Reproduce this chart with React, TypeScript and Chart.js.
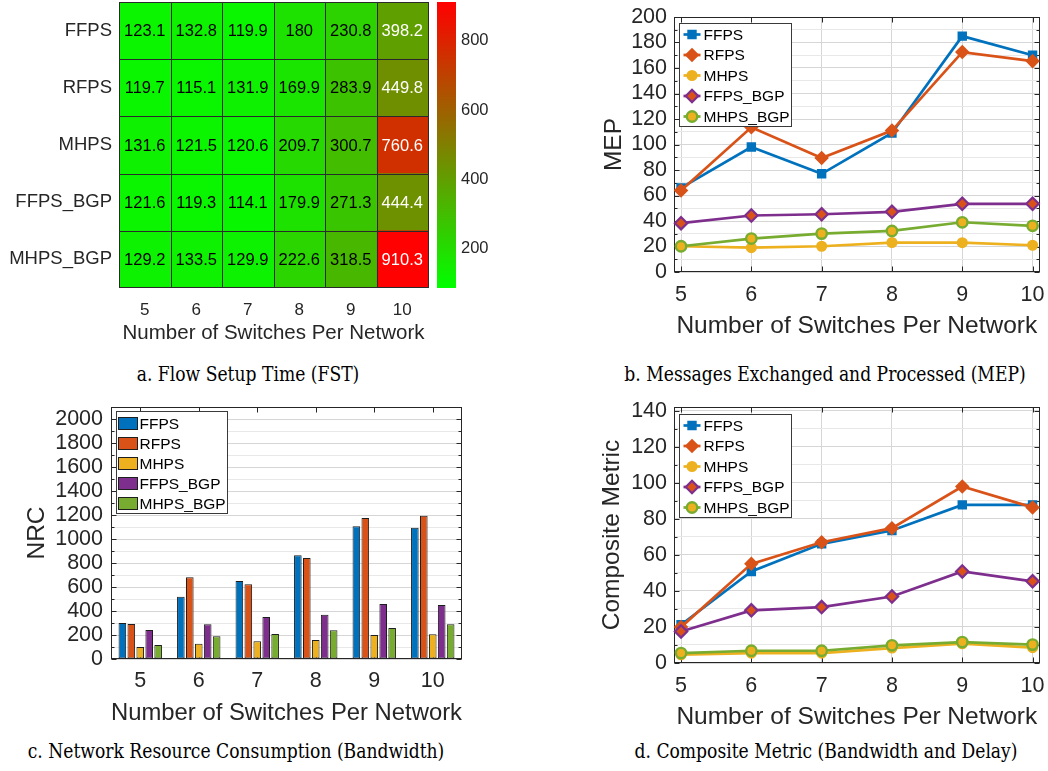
import React, { useEffect, useRef } from 'react';
import { Chart, registerables } from 'chart.js';

Chart.register(...registerables);
Chart.defaults.font.family = '"Liberation Sans", Arial, Helvetica, sans-serif';
Chart.defaults.color = '#262626';

// ---------------- data ----------------
const SWITCH_LABELS = ['5', '6', '7', '8', '9', '10'];
const SWITCH_COUNTS = [5, 6, 7, 8, 9, 10];
const SCHEMES = ['FFPS', 'RFPS', 'MHPS', 'FFPS_BGP', 'MHPS_BGP'];

// a. Flow Setup Time (FST) heatmap, one row per scheme
const FST_FFPS = [123.1, 132.8, 119.9, 180, 230.8, 398.2];
const FST_RFPS = [119.7, 115.1, 131.9, 169.9, 283.9, 449.8];
const FST_MHPS = [131.6, 121.5, 120.6, 209.7, 300.7, 760.6];
const FST_FFPS_BGP = [121.6, 119.3, 114.1, 179.9, 271.3, 444.4];
const FST_MHPS_BGP = [129.2, 133.5, 129.9, 222.6, 318.5, 910.3];
const FST_ROWS = [FST_FFPS, FST_RFPS, FST_MHPS, FST_FFPS_BGP, FST_MHPS_BGP];
const FST_COLOR_LIMITS = [87, 912];
const FST_COLORBAR_TICKS = [200, 400, 600, 800];

// b. Messages Exchanged and Processed (MEP)
const MEP_FFPS = [66, 98, 77, 109, 185, 170];
const MEP_RFPS = [64, 113.5, 89.4, 110.9, 172.5, 165.4];
const MEP_MHPS = [20.2, 19.1, 20.2, 23.1, 23, 21];
const MEP_FFPS_BGP = [38.3, 44.3, 45.3, 47.2, 53.5, 53.5];
const MEP_MHPS_BGP = [20.2, 26.2, 30.1, 32.2, 39, 36.2];
const MEP_SERIES = [MEP_FFPS, MEP_RFPS, MEP_MHPS, MEP_FFPS_BGP, MEP_MHPS_BGP];
const MEP_Y_MAX = 200;
const MEP_Y_STEP = 10;
const MEP_Y_LABEL_STEP = 20;

// c. Network Resource Consumption (NRC)
const NRC_FFPS = [300, 519, 650, 864, 1106, 1094];
const NRC_RFPS = [292, 681, 622, 842, 1175, 1194];
const NRC_MHPS = [100, 128, 147, 158, 200, 206];
const NRC_FFPS_BGP = [242, 289, 350, 369, 458, 450];
const NRC_MHPS_BGP = [117, 189, 208, 239, 258, 289];
const NRC_SERIES = [NRC_FFPS, NRC_RFPS, NRC_MHPS, NRC_FFPS_BGP, NRC_MHPS_BGP];
const NRC_Y_MAX = 2100;
const NRC_Y_STEP = 100;
const NRC_Y_LABEL_STEP = 200;

// d. Composite Metric
const CM_FFPS = [21.2, 50.8, 66.1, 73.5, 87.7, 87.7];
const CM_RFPS = [19.9, 55, 67, 74.8, 97.9, 86.3];
const CM_MHPS = [4.6, 5.5, 5.5, 8.3, 10.7, 8.5];
const CM_FFPS_BGP = [17.5, 29.2, 31, 36.9, 50.8, 45.3];
const CM_MHPS_BGP = [5.5, 6.8, 6.8, 9.8, 11.6, 10.2];
const CM_SERIES = [CM_FFPS, CM_RFPS, CM_MHPS, CM_FFPS_BGP, CM_MHPS_BGP];
const CM_Y_MAX = 142;
const CM_Y_STEP = 10;
const CM_Y_LABEL_STEP = 20;

const X_TITLE = 'Number of Switches Per Network';

// ---------------- styles ----------------
const AXIS = '#262626';
const GRID_MAJOR = '#d6d6d6';
const GRID_MINOR = '#e8e8e8';
const LINE_COLORS = ['#0072BD', '#D95319', '#EDB120', '#7E2F8E', '#77AC30'];
const MARKER_FILLS = ['#0072BD', '#D95319', '#EDB120', '#D95319', '#EDB120'];
const MARKER_STYLES = ['rect', 'rectRot', 'circle', 'rectRot', 'circle'];
const MARKER_RADII = [5.6, 6.2, 4.8, 6.2, 5.2];
const MARKER_BORDERS = [1.5, 1.5, 1.5, 2.2, 2.4];

function steps(max: number, step: number): number[] {
  const out: number[] = [];
  for (let v = 0; v <= max + 1e-9; v += step) out.push(Math.round(v * 1000) / 1000);
  return out;
}

function colormap(v: number): [number, number, number] {
  const [lo, hi] = FST_COLOR_LIMITS;
  let t = (v - lo) / (hi - lo);
  t = Math.max(0, Math.min(1, t));
  return [Math.round(255 * t), Math.round(255 * (1 - t)), 0];
}
const rgb = (c: [number, number, number]) => `rgb(${c[0]},${c[1]},${c[2]})`;

const fixWidth = (w: number) => (s: any) => {
  s.width = w;
  s.paddingTop = 0; s.paddingBottom = 0; s.paddingLeft = 0; s.paddingRight = 0;
};
const fixHeight = (h: number) => (s: any) => {
  s.height = h;
  s.paddingTop = 0; s.paddingBottom = 0; s.paddingLeft = 0; s.paddingRight = 0;
};

function drawMarker(ctx: CanvasRenderingContext2D, style: string, x: number, y: number, r: number, fill: string, stroke: string, bw: number) {
  ctx.beginPath();
  if (style === 'rect') {
    const s = r * Math.SQRT1_2;
    ctx.rect(x - s, y - s, 2 * s, 2 * s);
  } else if (style === 'rectRot') {
    ctx.moveTo(x, y - r); ctx.lineTo(x + r, y); ctx.lineTo(x, y + r); ctx.lineTo(x - r, y); ctx.closePath();
  } else {
    ctx.arc(x, y, r, 0, Math.PI * 2);
  }
  ctx.fillStyle = fill; ctx.fill();
  ctx.lineWidth = bw; ctx.strokeStyle = stroke; ctx.stroke();
}

// ---------------- plugins ----------------
const boxPlugin = {
  id: 'mbox',
  beforeDatasetsDraw(chart: any, _a: any, o: any) {
    if (!o || !o.display) return;
    const { ctx, chartArea: a, scales } = chart;
    const L = Math.round(a.left) + 0.5, R = Math.round(a.right) - 0.5;
    const T = Math.round(a.top) + 0.5, B = Math.round(a.bottom) - 0.5;
    ctx.save();
    ctx.strokeStyle = AXIS; ctx.lineWidth = 1;
    ctx.strokeRect(L, T, R - L, B - T);
    ctx.beginPath();
    const ys = scales.y;
    if (o.yTicks !== 'none') {
      ys.ticks.forEach((t: any, i: number) => {
        const p = Math.round(ys.getPixelForTick(i)) + 0.5;
        const len = t.label !== '' ? 5 : 3;
        if (o.yTicks !== 'right') { ctx.moveTo(L, p); ctx.lineTo(L + len, p); }
        ctx.moveTo(R, p); ctx.lineTo(R - len, p);
      });
    }
    if (o.xTicks) {
      const xs = scales.x;
      xs.ticks.forEach((_t: any, i: number) => {
        const p = Math.round(xs.getPixelForTick(i)) + 0.5;
        ctx.moveTo(p, B); ctx.lineTo(p, B - 5);
        ctx.moveTo(p, T); ctx.lineTo(p, T + 5);
      });
    }
    ctx.stroke();
    ctx.restore();
  },
};

const legendPlugin = {
  id: 'mlegend',
  afterDatasetsDraw(chart: any, _a: any, o: any) {
    if (!o || !o.display) return;
    const { ctx, chartArea: a } = chart;
    const x0 = Math.round(a.left + o.dx) + 0.5, y0 = Math.round(a.top + o.dy) + 0.5;
    ctx.save();
    ctx.fillStyle = '#ffffff'; ctx.fillRect(x0, y0, o.w, o.h);
    ctx.strokeStyle = '#3a3a3a'; ctx.lineWidth = 1; ctx.strokeRect(x0, y0, o.w, o.h);
    ctx.font = `${o.fontSize}px "Liberation Sans", Arial, sans-serif`;
    ctx.textBaseline = 'middle'; ctx.textAlign = 'left';
    chart.data.datasets.forEach((ds: any, i: number) => {
      const cy = y0 + o.first + i * o.step;
      if (o.kind === 'bar') {
        ctx.fillStyle = ds.backgroundColor;
        ctx.fillRect(x0 + 2, cy - 6, 19, 12);
        ctx.strokeStyle = '#1e1e1e'; ctx.lineWidth = 1;
        ctx.strokeRect(x0 + 2, cy - 6, 19, 12);
      } else {
        ctx.strokeStyle = ds.borderColor; ctx.lineWidth = ds.borderWidth;
        ctx.beginPath(); ctx.moveTo(x0 + 4, cy); ctx.lineTo(x0 + 21, cy); ctx.stroke();
        drawMarker(ctx, ds.pointStyle, x0 + 12.5, cy, ds.pointRadius, ds.pointBackgroundColor, ds.pointBorderColor, ds.pointBorderWidth);
      }
      ctx.fillStyle = '#000000';
      ctx.fillText(ds.label, x0 + o.textX, cy + 1);
    });
    ctx.restore();
  },
};

const heatCellsPlugin = {
  id: 'heatcells',
  afterDatasetsDraw(chart: any) {
    const { ctx, chartArea: a, scales } = chart;
    const xs = scales.x, ys = scales.y;
    ctx.save();
    ctx.font = '16.5px "Liberation Sans", Arial, sans-serif';
    ctx.textAlign = 'center'; ctx.textBaseline = 'middle';
    chart.data.datasets.forEach((_ds: any, ci: number) => {
      const meta = chart.getDatasetMeta(ci);
      meta.data.forEach((el: any, ri: number) => {
        const p = el.getProps(['x', 'y', 'base'], true);
        const v = FST_ROWS[ri][ci];
        const c = colormap(v);
        const lum = 0.299 * c[0] + 0.587 * c[1] + 0.114 * c[2];
        ctx.fillStyle = lum < 127 ? '#ffffff' : '#000000';
        ctx.fillText(String(v), (p.x + p.base) / 2, p.y + 1);
      });
    });
    // cell borders
    ctx.strokeStyle = '#2a2a2a'; ctx.lineWidth = 1;
    ctx.beginPath();
    for (let k = 0; k <= SWITCH_LABELS.length; k++) {
      const px = Math.round(xs.getPixelForValue(k)) + 0.5;
      ctx.moveTo(px, a.top); ctx.lineTo(px, a.bottom);
    }
    const rowEdges = [a.top];
    for (let j = 1; j < SCHEMES.length; j++) rowEdges.push((ys.getPixelForValue(j - 1) + ys.getPixelForValue(j)) / 2);
    rowEdges.push(a.bottom);
    rowEdges.forEach((e, j) => {
      const py = j === rowEdges.length - 1 ? Math.round(e) - 0.5 : Math.round(e) + 0.5;
      ctx.moveTo(a.left, py); ctx.lineTo(a.right, py);
    });
    ctx.stroke();
    ctx.restore();
  },
};

// ---------------- chart configs ----------------
function makeHeatmap(): any {
  return {
    type: 'bar',
    data: {
      labels: SCHEMES,
      datasets: SWITCH_LABELS.map((sw, ci) => ({
        label: sw,
        data: SCHEMES.map(() => 1),
        backgroundColor: FST_ROWS.map((row) => rgb(colormap(row[ci]))),
        borderWidth: 0,
        barPercentage: 1,
        categoryPercentage: 1,
      })),
    },
    options: {
      indexAxis: 'y',
      responsive: false,
      animation: false,
      events: [],
      layout: { padding: { left: 0, top: 2, right: 9, bottom: 4 } },
      plugins: { legend: { display: false }, tooltip: { enabled: false } },
      scales: {
        x: {
          type: 'linear', stacked: true, min: 0, max: SWITCH_LABELS.length,
          afterBuildTicks: (s: any) => { s.ticks = SWITCH_LABELS.map((_l, i) => ({ value: i + 0.5 })); },
          ticks: { callback: (v: number) => SWITCH_LABELS[Math.floor(v)], font: { size: 17 }, padding: 12, color: AXIS, autoSkip: false, maxRotation: 0 },
          grid: { display: false, drawTicks: false },
          border: { display: false },
          title: { display: true, text: X_TITLE, font: { size: 20.5 }, padding: 0, color: AXIS },
          afterFit: fixHeight(58),
        },
        y: {
          stacked: true,
          ticks: { font: { size: 18.5 }, padding: 7, color: AXIS },
          grid: { display: false, drawTicks: false },
          border: { display: false },
          afterFit: fixWidth(119),
        },
      },
    },
    plugins: [heatCellsPlugin],
  };
}

function makeColorbar(): any {
  const [lo, hi] = FST_COLOR_LIMITS;
  return {
    type: 'bar',
    data: {
      labels: [''],
      datasets: [{
        data: [[lo, hi]],
        backgroundColor: (c: any) => {
          const ch = c.chart;
          if (!ch.chartArea) return 'rgb(0,255,0)';
          const ys = ch.scales.y;
          const g = ch.ctx.createLinearGradient(0, ys.getPixelForValue(lo), 0, ys.getPixelForValue(hi));
          for (let k = 0; k <= 10; k++) g.addColorStop(k / 10, rgb(colormap(lo + ((hi - lo) * k) / 10)));
          return g;
        },
        borderWidth: 0,
        barPercentage: 1,
        categoryPercentage: 1,
      }],
    },
    options: {
      responsive: false,
      animation: false,
      events: [],
      layout: { padding: { left: 0, top: 2, right: 0, bottom: 12 } },
      plugins: { legend: { display: false }, tooltip: { enabled: false }, mbox: { display: true, yTicks: 'right', xTicks: false } },
      scales: {
        x: { display: false },
        y: {
          position: 'right', min: lo, max: hi,
          afterBuildTicks: (s: any) => { s.ticks = FST_COLORBAR_TICKS.map((v) => ({ value: v })); },
          ticks: { font: { size: 16.5 }, padding: 5, color: AXIS, autoSkip: false },
          grid: { display: false, drawTicks: false },
          border: { display: false },
          afterFit: fixWidth(41),
        },
      },
    },
    plugins: [boxPlugin],
  };
}

function makeLine(series: number[][], yMax: number, yStep: number, labelStep: number, yTitle: string, pad: any, yWidth: number, xHeight: number, legendDy: number): any {
  return {
    type: 'line',
    data: {
      datasets: SCHEMES.map((name, i) => ({
        label: name,
        data: SWITCH_COUNTS.map((x, k) => ({ x, y: series[i][k] })),
        borderColor: LINE_COLORS[i],
        backgroundColor: MARKER_FILLS[i],
        pointBackgroundColor: MARKER_FILLS[i],
        pointBorderColor: LINE_COLORS[i],
        pointStyle: MARKER_STYLES[i],
        pointRadius: MARKER_RADII[i],
        pointBorderWidth: MARKER_BORDERS[i],
        borderWidth: 2.7,
        tension: 0,
        fill: false,
        clip: false,
        order: SCHEMES.length - i,
      })),
    },
    options: {
      responsive: false,
      animation: false,
      events: [],
      layout: { padding: pad },
      plugins: {
        legend: { display: false },
        tooltip: { enabled: false },
        mbox: { display: true, yTicks: 'both', xTicks: true },
        mlegend: { display: true, kind: 'line', dx: 5, dy: legendDy, w: 112, h: 103, first: 11, step: 20.5, textX: 24, fontSize: 15.5 },
      },
      scales: {
        x: {
          type: 'linear', min: SWITCH_COUNTS[0] - 0.1, max: SWITCH_COUNTS[SWITCH_COUNTS.length - 1] + 0.1,
          afterBuildTicks: (s: any) => { s.ticks = SWITCH_COUNTS.map((v) => ({ value: v })); },
          ticks: { font: { size: 21.5 }, padding: 10, color: AXIS, autoSkip: false, maxRotation: 0 },
          grid: { color: GRID_MAJOR, drawTicks: false, lineWidth: 1 },
          border: { display: false },
          title: { display: true, text: X_TITLE, font: { size: 24.5 }, padding: 0, color: AXIS },
          afterFit: fixHeight(xHeight),
        },
        y: {
          min: 0, max: yMax,
          afterBuildTicks: (s: any) => { s.ticks = steps(yMax, yStep).map((v) => ({ value: v })); },
          ticks: { font: { size: 21.5 }, padding: 7, color: AXIS, autoSkip: false, callback: (v: number) => (Math.abs(v % labelStep) < 1e-6 ? String(v) : '') },
          grid: { color: (c: any) => (c.tick && Math.abs(c.tick.value % labelStep) < 1e-6 ? GRID_MAJOR : GRID_MINOR), drawTicks: false, lineWidth: 1 },
          border: { display: false },
          title: { display: true, text: yTitle, font: { size: 24.5 }, padding: 0, color: AXIS },
          afterFit: fixWidth(yWidth),
        },
      },
    },
    plugins: [boxPlugin, legendPlugin],
  };
}

const makeMEP = () => makeLine(MEP_SERIES, MEP_Y_MAX, MEP_Y_STEP, MEP_Y_LABEL_STEP, 'MEP', { left: 0, top: 17, right: 7, bottom: 4 }, 74, 69, 6);
const makeCM = () => makeLine(CM_SERIES, CM_Y_MAX, CM_Y_STEP, CM_Y_LABEL_STEP, 'Composite Metric', { left: 8, top: 17, right: 6, bottom: 3 }, 76, 69, 7);

function makeNRC(): any {
  return {
    type: 'bar',
    data: {
      labels: SWITCH_LABELS,
      datasets: SCHEMES.map((name, i) => ({
        label: name,
        data: NRC_SERIES[i],
        backgroundColor: LINE_COLORS[i],
        borderColor: '#1e1e1e',
        borderWidth: 1,
        borderSkipped: false,
        categoryPercentage: 0.765,
        barPercentage: 0.85,
      })),
    },
    options: {
      responsive: false,
      animation: false,
      events: [],
      layout: { padding: { left: 23, top: 17, right: 18, bottom: 7 } },
      plugins: {
        legend: { display: false },
        tooltip: { enabled: false },
        mbox: { display: true, yTicks: 'both', xTicks: true },
        mlegend: { display: true, kind: 'bar', dx: 5, dy: 4, w: 111, h: 102, first: 12, step: 20, textX: 23, fontSize: 15.5 },
      },
      scales: {
        x: {
          ticks: { font: { size: 21.5 }, padding: 9, color: AXIS, autoSkip: false, maxRotation: 0 },
          grid: { display: false, drawTicks: false },
          border: { display: false },
          title: { display: true, text: X_TITLE, font: { size: 24.5 }, padding: 0, color: AXIS },
          afterFit: fixHeight(69),
        },
        y: {
          min: 0, max: NRC_Y_MAX,
          afterBuildTicks: (s: any) => { s.ticks = steps(NRC_Y_MAX, NRC_Y_STEP).map((v) => ({ value: v })); },
          ticks: { font: { size: 21.5 }, padding: 8, color: AXIS, autoSkip: false, callback: (v: number) => (v % NRC_Y_LABEL_STEP === 0 ? String(v) : '') },
          grid: { color: (c: any) => (c.tick && c.tick.value % NRC_Y_LABEL_STEP === 0 ? GRID_MAJOR : GRID_MINOR), drawTicks: false, lineWidth: 1 },
          border: { display: false },
          title: { display: true, text: 'NRC', font: { size: 24.5 }, padding: 0, color: AXIS },
          afterFit: fixWidth(88),
        },
      },
    },
    plugins: [boxPlugin, legendPlugin],
  };
}

// ---------------- components ----------------
function ChartBox({ left, top, width, height, make }: { left: number; top: number; width: number; height: number; make: () => any }) {
  const ref = useRef<HTMLCanvasElement | null>(null);
  useEffect(() => {
    if (!ref.current) return;
    const chart = new Chart(ref.current, make());
    return () => chart.destroy();
  }, [make]);
  return (
    <div style={{ position: 'absolute', left, top, width, height }}>
      <canvas ref={ref} width={width} height={height} style={{ display: 'block', width, height }} />
    </div>
  );
}

function Caption({ x, y, text }: { x: number; y: number; text: string }) {
  return (
    <div style={{ position: 'absolute', left: x - 300, top: y - 13, width: 600, height: 26, lineHeight: '26px', textAlign: 'center', fontFamily: '"DejaVu Serif", serif', fontSize: 19.5, color: '#000', whiteSpace: 'nowrap', transform: 'scaleX(0.88)', transformOrigin: 'center center' }}>
      {text}
    </div>
  );
}

export default function App() {
  return (
    <div style={{ position: 'absolute', left: 0, top: 0, width: 1048, height: 771, background: '#ffffff', overflow: 'hidden' }}>
      <ChartBox left={0} top={0} width={437} height={350} make={makeHeatmap} />
      <ChartBox left={437} top={0} width={60} height={300} make={makeColorbar} />
      <ChartBox left={600} top={0} width={448} height={345} make={makeMEP} />
      <ChartBox left={0} top={390} width={480} height={345} make={makeNRC} />
      <ChartBox left={590} top={390} width={458} height={345} make={makeCM} />
      <Caption x={248} y={375} text="a. Flow Setup Time (FST)" />
      <Caption x={825} y={375} text="b. Messages Exchanged and Processed (MEP)" />
      <Caption x={236} y={752} text="c. Network Resource Consumption (Bandwidth)" />
      <Caption x={826} y={752} text="d. Composite Metric (Bandwidth and Delay)" />
    </div>
  );
}
